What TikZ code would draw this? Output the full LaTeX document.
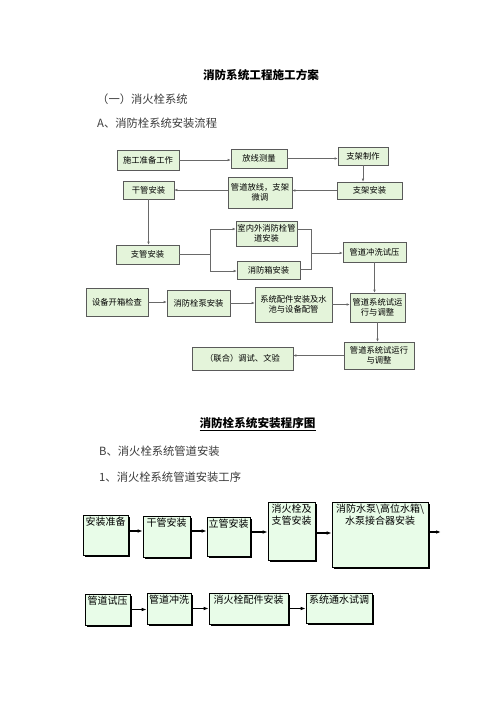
\documentclass[tikz,border=0pt]{standalone}
\usepackage{fontspec}
\setmainfont{Noto Sans CJK SC}
\usetikzlibrary{arrows.meta,shadows}

\definecolor{flowFill}{RGB}{228,244,218}
\definecolor{flowDraw}{RGB}{90,90,90}
\definecolor{lineGray}{RGB}{105,105,105}
\definecolor{stepFill}{RGB}{232,252,232}
\definecolor{textGray}{RGB}{60,60,60}

\newcommand{\flowLineWidth}{0.6pt}
\newcommand{\stepLineWidth}{1.1pt}
\newcommand{\flowFont}{\fontsize{8.3}{10}\selectfont}
\newcommand{\stepFont}{\fontsize{10}{12}\selectfont}
\newcommand{\headFont}{\fontsize{11.3}{13}\selectfont}
\newcommand{\titleFont}{\fontsize{11.6}{13}\selectfont\bfseries}
\newcommand{\topText}[3]{\parbox[c][#2pt][t]{#1pt}{\centering\vspace{2pt}#3}}

\begin{document}
\begin{tikzpicture}[x=1pt,y=-1pt,
    flowbox/.style={draw=flowDraw, fill=flowFill, line width=\flowLineWidth, inner sep=1pt, align=center, font=\flowFont},
    conn/.style={draw=lineGray, line width=\flowLineWidth},
    flowarrow/.style={conn, -{Latex[length=3pt,width=2.6pt]}},
    stepbox/.style={draw=black, fill=stepFill, line width=0.6pt, inner sep=0pt, font=\stepFont,
      general shadow={fill=black, shadow xshift=1.5pt, shadow yshift=-1.5pt}},
    steparrow/.style={black, line width=\stepLineWidth, -{Latex[length=5pt,width=3.6pt]}},
    headtext/.style={anchor=west, inner sep=0pt, font=\headFont, text=textGray}]
        \fill[white] (0,0) rectangle (496,702);
        \useasboundingbox (0,0) rectangle (496,702);

        % Headings
        \node[font=\titleFont, inner sep=0pt] (docTitle) at (261,75) {消防系统工程施工方案};
        \node[headtext] (secOne) at (97,99) {（一）消火栓系统};
        \node[headtext] (secA) at (97,123) {A、消防栓系统安装流程};

        % Flow chart boxes
        \node[flowbox, minimum width=62, minimum height=20] (prep) at (148,160) {施工准备工作};
        \node[flowbox, minimum width=56, minimum height=19] (survey) at (259,158.5) {放线测量};
        \node[flowbox, minimum width=50, minimum height=18] (make) at (363,156) {支架制作};
        \node[flowbox, minimum width=65, minimum height=17] (mount) at (369.5,190.5) {支架安装};
        \node[flowbox, minimum width=64, minimum height=31] (adjust) at (260,192.5) {管道放线，支架\\微调};
        \node[flowbox, minimum width=51, minimum height=18] (mainPipe) at (148.5,190) {干管安装};
        \node[flowbox, minimum width=61, minimum height=25] (indoor) at (266.5,233.5) {室内外消防栓管\\道安装};
        \node[flowbox, minimum width=63, minimum height=19] (branch) at (147.5,254.5) {支管安装};
        \node[flowbox, minimum width=63, minimum height=18] (cabinet) at (268.5,270) {消防箱安装};
        \node[flowbox, minimum width=63, minimum height=20] (flush) at (374.5,252) {管道冲洗试压};
        \node[flowbox, minimum width=62, minimum height=28] (unpack) at (117,302) {设备开箱检查};
        \node[flowbox, minimum width=63, minimum height=26] (pump) at (198.5,303) {消防栓泵安装};
        \node[flowbox, minimum width=77, minimum height=35] (fitting) at (293.5,304.5) {系统配件安装及水\\池与设备配管};
        \node[flowbox, minimum width=55, minimum height=29] (trialA) at (377.5,307.5) {管道系统试运\\行与调整};
        \node[flowbox, minimum width=70, minimum height=27] (trialB) at (379,355.5) {管道系统试运行\\与调整};
        \node[flowbox, minimum width=101, minimum height=23] (joint) at (242.5,358.5) {（联合）调试、文验};

        % Flow chart connectors
        \coordinate (splitTop) at (210,229);
        \coordinate (splitBot) at (210,271);
        \coordinate (mergeTop) at (311,229);
        \coordinate (mergeBot) at (311,269);
        \coordinate (mergeMid) at (311,253);
        \draw[flowarrow] (prep.east) -- (prep.east -| survey.west);
        \draw[flowarrow] (survey.east) -- (survey.east -| make.west);
        \draw[flowarrow] (make.south) -- (make.south |- mount.north);
        \draw[flowarrow] (mount.west) -- (mount.west -| adjust.east);
        \draw[flowarrow] (adjust.west |- mainPipe.east) -- (mainPipe.east);
        \draw[flowarrow] (mainPipe.south) -- (mainPipe.south |- branch.north);
        \draw[conn] (branch.east) -- (branch.east -| splitTop);
        \draw[flowarrow] (splitBot) -- (splitTop) -- (splitTop -| indoor.west);
        \draw[flowarrow] (splitBot) -- (splitBot -| cabinet.west);
        \draw[conn] (mergeTop -| indoor.east) -- (mergeTop) -- (mergeBot) -- (mergeBot -| cabinet.east);
        \draw[flowarrow] (mergeMid) -- (mergeMid -| flush.west);
        \draw[flowarrow] (flush.south) -- (flush.south |- trialA.north);
        \draw[flowarrow] (unpack.east) -- (unpack.east -| pump.west);
        \draw[flowarrow] (pump.east) -- (pump.east -| fitting.west);
        \draw[flowarrow] (fitting.east) -- (fitting.east -| trialA.west);
        \draw[flowarrow] (trialA.south) -- (trialA.south |- trialB.north);
        \draw[flowarrow] (trialB.west) -- (trialB.west -| joint.east);

        % Second part headings
        \node[font=\titleFont, inner sep=0pt] (chartTitle) at (257.5,424) {\underline{消防栓系统安装程序图}};
        \node[headtext] (secB) at (99,451) {B、消火栓系统管道安装};
        \node[headtext] (secOneSub) at (99,477) {1、消火栓系统管道安装工序};

        % Process steps, first row
        \node[stepbox] (prepare) at (105.5,535) {\topText{45}{40}{安装准备}};
        \node[stepbox] (trunk) at (166.5,536.5) {\topText{47}{41}{干管安装}};
        \node[stepbox] (riser) at (228.5,536.5) {\topText{43}{39}{立管安装}};
        \node[stepbox] (hydrant) at (291.5,531) {\topText{47}{58}{消火栓及\\支管安装}};
        \node[stepbox] (pumpSet) at (380,534.5) {\topText{96}{65}{消防水泵\textbackslash 高位水箱\textbackslash\\水泵接合器安装}};
        \coordinate (rowExit) at (441,532);

        % Process steps, second row
        \node[stepbox] (pressure) at (107.5,609.5) {\topText{45}{31}{管道试压}};
        \node[stepbox] (rinse) at (169,608.5) {\topText{44}{31}{管道冲洗}};
        \node[stepbox] (parts) at (248.5,608.5) {\topText{79}{31}{消火栓配件安装}};
        \node[stepbox] (waterRun) at (339,608) {\topText{66}{30}{系统通水试调}};

        % Process arrows
        \draw[steparrow] ([yshift=4pt]prepare.east) -- ([yshift=4pt]prepare.east -| trunk.west);
        \draw[steparrow] ([yshift=5.5pt]trunk.east) -- ([yshift=5.5pt]trunk.east -| riser.west);
        \draw[steparrow] ([yshift=4.5pt]riser.east) -- ([yshift=4.5pt]riser.east -| hydrant.west);
        \draw[steparrow] ([yshift=-2pt]hydrant.east) -- ([yshift=-2pt]hydrant.east -| pumpSet.west);
        \draw[steparrow] (pumpSet.east |- rowExit) -- (rowExit);
        \draw[steparrow] (pressure.east) -- (pressure.east -| rinse.west);
        \draw[steparrow] (rinse.east) -- (rinse.east -| parts.west);
        \draw[steparrow] (parts.east) -- (parts.east -| waterRun.west);
    \end{tikzpicture}
\end{document}
